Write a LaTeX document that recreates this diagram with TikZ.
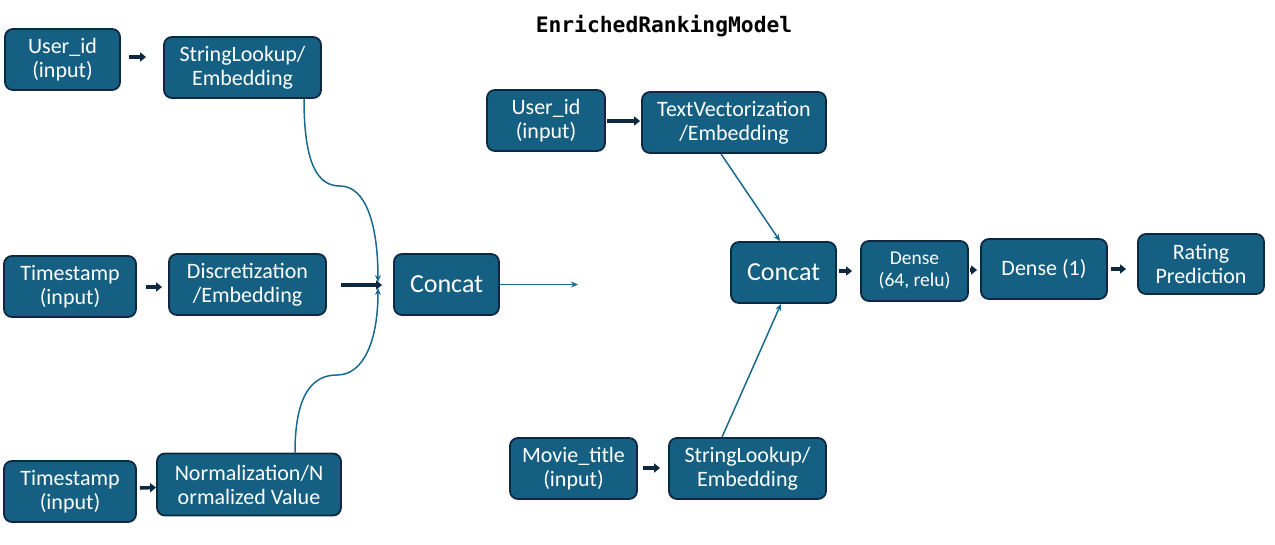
\documentclass[tikz,border=0pt]{standalone}
\usepackage{fontspec}
\setmainfont{Carlito}
\newfontfamily\titlefont{DejaVu Sans Mono}
\usetikzlibrary{arrows.meta,calc}
\definecolor{boxfill}{HTML}{156082}
\definecolor{boxline}{HTML}{0E2841}
\definecolor{thinline}{HTML}{1A6A8E}
\begin{document}
\begin{tikzpicture}[x=1pt,y=-1pt,
  blk/.style={draw=boxline, line width=1.8pt, fill=boxfill, rounded corners=8pt,
    text=white, align=center, inner sep=0pt, font=\fontsize{22}{24}\selectfont},
  thickarr/.style={draw=boxline, line width=3.5pt, -{Triangle[length=6pt,width=9pt]}},
  thinarr/.style={draw=thinline, line width=1.5pt, -{Stealth[length=7pt,width=6pt]}}]
\useasboundingbox (0,0) rectangle (1275,544);
\node[font=\titlefont\bfseries\fontsize{21.3}{23}\selectfont] (title) at (664,26) {EnrichedRankingModel};
% left column
\node[blk, minimum width=115pt, minimum height=61pt] (u1) at (62.5,59.5) {User\_id\\(input)};
\node[blk, minimum width=157pt, minimum height=61pt] (s1) at (242.5,67.5) {StringLookup/\\Embedding};
\node[blk, minimum width=132pt, minimum height=61pt] (t1) at (70,286.5) {Timestamp\\(input)};
\node[blk, minimum width=157pt, minimum height=61pt] (d1) at (247.5,284.5) {Discretization\\/Embedding};
\node[blk, minimum width=105pt, minimum height=61pt, font=\fontsize{26}{28}\selectfont] (c1) at (446.5,284.5) {Concat};
\node[blk, minimum width=132pt, minimum height=61pt] (t2) at (70,491.5) {Timestamp\\(input)};
\node[blk, minimum width=184pt, minimum height=62pt] (n1) at (249,484.5) {Normalization/N\\ormalized Value};
% right part
\node[blk, minimum width=118pt, minimum height=61pt] (u2) at (546,120.5) {User\_id\\(input)};
\node[blk, minimum width=184pt, minimum height=61pt] (tv) at (734,122.5) {TextVectorization\\/Embedding};
\node[blk, minimum width=105pt, minimum height=61pt, font=\fontsize{26}{28}\selectfont] (c2) at (783.5,272.5) {Concat};
\node[blk, minimum width=107pt, minimum height=60pt, font=\fontsize{19.5}{22}\selectfont] (de1) at (914.5,271) {Dense\\(64, relu)};
\node[blk, minimum width=126pt, minimum height=60pt] (de2) at (1044,269) {Dense (1)};
\node[blk, minimum width=126pt, minimum height=60pt] (rp) at (1201,264) {Rating\\Prediction};
\node[blk, minimum width=127pt, minimum height=61pt] (mt) at (573.5,468.5) {Movie\_title\\(input)};
\node[blk, minimum width=157pt, minimum height=61pt] (s2) at (747.5,468.5) {StringLookup/\\Embedding};
% free ends
\coordinate (m1) at (378,282);
\coordinate (m2) at (378,288);
\coordinate (o1) at (578,284.5);
% thick arrows
\draw[thickarr] ($(u1.east)+(8,-2.5)$) -- ($(s1.west)+(-17,-10.5)$);
\draw[thickarr] ($(t1.east)+(9,0.5)$) -- ($(d1.west)+(-6,2.5)$);
\draw[thickarr] ($(d1.east)+(14,0.5)$) -- ($(c1.west)+(-11,0.5)$);
\draw[thickarr] ($(t2.east)+(3,-3.5)$) -- ($(n1.west)+(0,3)$);
\draw[thickarr] ($(u2.east)+(1,0.5)$) -- ($(tv.west)+(-1,-1.5)$);
\draw[thickarr] ($(mt.east)+(5,-0.5)$) -- ($(s2.west)+(-8,-0.5)$);
\draw[thickarr] ($(c2.east)+(2,-1.5)$) -- ($(de1.west)+(-8,0)$);
\draw[thickarr] ($(de1.east)+(1,-1)$) -- ($(de2.west)+(-3,1)$);
\draw[thickarr] ($(de2.east)+(3,0)$) -- ($(rp.west)+(-11,5)$);
% thin connectors
\draw[thinarr] ($(s1.south)+(61.5,0)$) .. controls (304,165) and (318,186) .. (340,186)
  .. controls (366,186) and (378,225) .. (m1);
\draw[thinarr] ($(n1.north)+(46,0)$) .. controls (295,395) and (312,375) .. (337,375)
  .. controls (364,375) and (378,340) .. (m2);
\draw[thinarr] (c1.east) -- (o1);
\draw[thinarr] ($(tv.south)+(-13,0)$) -- ($(c2.north)+(-3.5,0)$);
\draw[thinarr] ($(s2.north)+(-25.5,0)$) -- ($(c2.south)+(-2.5,0)$);
\end{tikzpicture}
\end{document}
